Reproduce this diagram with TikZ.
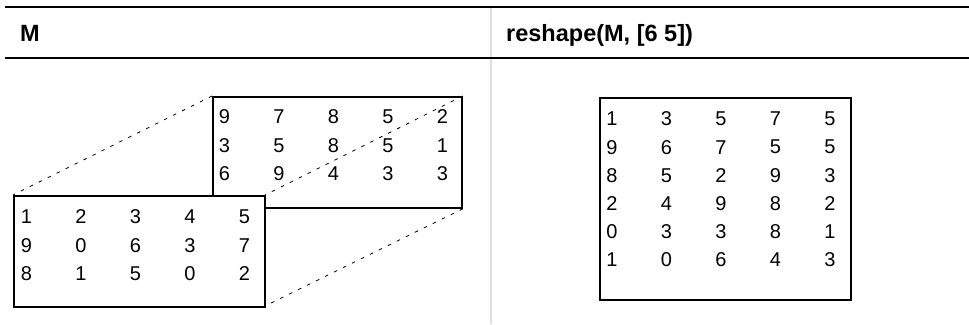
\documentclass[tikz,border=0pt]{standalone}
\usepackage{fontspec}
\setmainfont{Liberation Sans}
\usetikzlibrary{calc}

\tikzset{
  tablerule/.style={line width=2.4pt},
  colsep/.style={line width=1.4pt, black!12},
  matbox/.style={draw, line width=1.8pt, fill=white, inner sep=0pt, anchor=north west},
  header/.style={font=\fontsize{23.5}{26}\selectfont\bfseries, inner sep=0pt, anchor=base west},
  digit/.style={font=\fontsize{20}{22}\selectfont, inner sep=0pt},
  slice/.style={dashed, dash pattern=on 3.5pt off 6.5pt, line width=0.8pt}
}

\begin{document}
\begin{tikzpicture}[x=1pt, y=-1pt]
            \useasboundingbox (0,0) rectangle (969,324);

            % Table rules and column separator
            \draw[colsep] (491,8) -- (491,324);
            \draw[tablerule] (5,7) -- (969,7);
            \draw[tablerule] (5,58) -- (969,58);

            % Headers
            \node[header] (hdr-m) at (20,41) {M};
            \node[header] (hdr-reshape) at (506,41) {reshape(M, [6 5])};

            % Second page of M (behind)
            \node[matbox, minimum width=249pt, minimum height=111pt] (back) at (212,96) {};
            \foreach \row [count=\r] in {{9,7,8,5,2},{3,5,8,5,1},{6,9,4,3,3}}
              \foreach \val [count=\c] in \row
                \node[digit] (back-\r-\c) at ($(back.north west)+(12.5+54.5*\c-54.5, 21+28.3*\r-28.3)$) {\val};

            % Dashed edges between the pages
            \draw[slice] (back.north west) -- (13,195) coordinate (front-nw);
            \draw[slice] (back.north east) -- (265,195) coordinate (front-ne);
            \draw[slice] (back.south east) -- (265,306) coordinate (front-se);

            % First page of M (front)
            \node[matbox, minimum width=251pt, minimum height=111pt] (front) at (front-nw) {};
            \foreach \row [count=\r] in {{1,2,3,4,5},{9,0,6,3,7},{8,1,5,0,2}}
              \foreach \val [count=\c] in \row
                \node[digit] (front-\r-\c) at ($(front.north west)+(13.5+54.5*\c-54.5, 22+28.3*\r-28.3)$) {\val};

            % Result of reshape
            \node[matbox, minimum width=251pt, minimum height=202pt] (result) at (599,97) {};
            \foreach \row [count=\r] in {{1,3,5,7,5},{9,6,7,5,5},{8,5,2,9,3},{2,4,9,8,2},{0,3,3,8,1},{1,0,6,4,3}}
              \foreach \val [count=\c] in \row
                \node[digit] (result-\r-\c) at ($(result.north west)+(13+54.5*\c-54.5, 22+28.2*\r-28.2)$) {\val};
        \end{tikzpicture}
\end{document}
